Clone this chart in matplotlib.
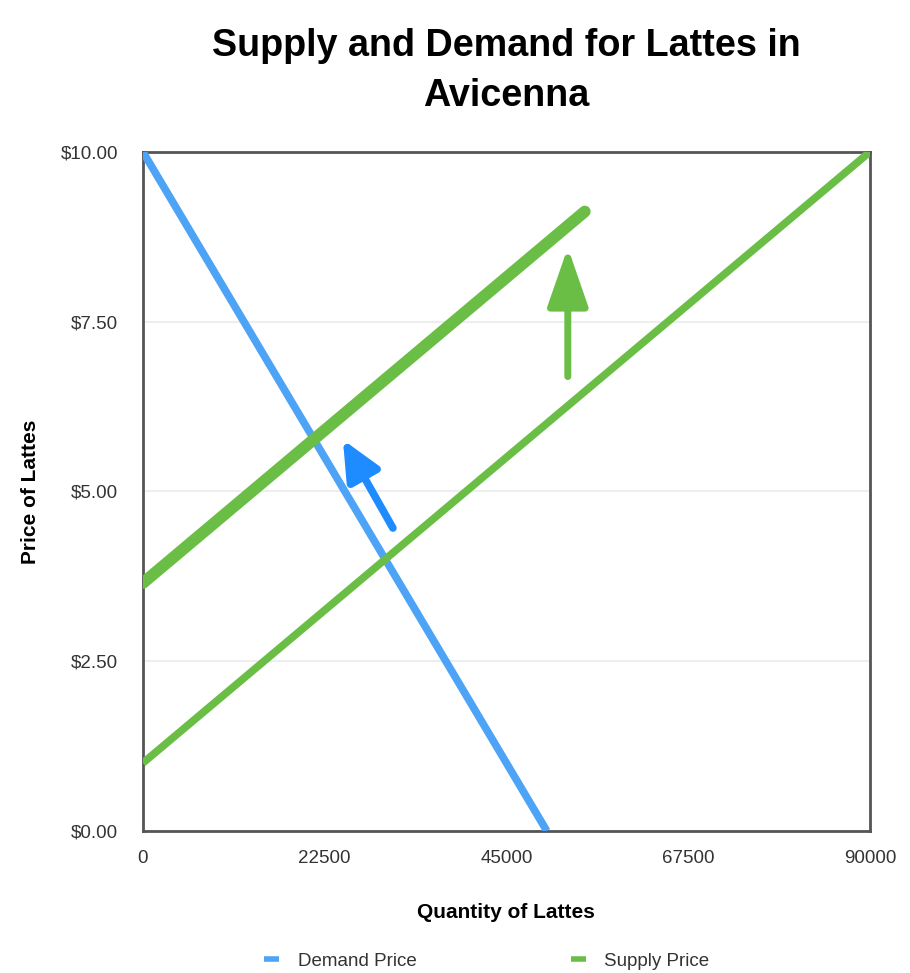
import matplotlib
matplotlib.use("Agg")
import matplotlib.pyplot as plt
from matplotlib import font_manager
import numpy as np

# Data
quantity_ticks = [0, 22500, 45000, 67500, 90000]
price_ticks = [0.0, 2.5, 5.0, 7.5, 10.0]
price_tick_labels = ["$0.00", "$2.50", "$5.00", "$7.50", "$10.00"]

demand_q = [0, 50000]
demand_p = [10.0, 0.0]
supply_q = [0, 90000]
supply_p = [1.0, 10.0]
new_supply_q = [0, 54700]
new_supply_p = [3.65, 9.12]

# arrows (tail -> head) in data coords
green_arrow = ((52600, 6.69), (52600, 8.59))
blue_arrow = ((30950, 4.46), (24760, 5.76))

names = {f.name for f in font_manager.fontManager.ttflist}
fam = "Liberation Sans Narrow" if "Liberation Sans Narrow" in names else "Liberation Sans"
plt.rcParams['font.family'] = [fam, 'DejaVu Sans']

demand_color = "#4DA3F5"
supply_color = "#6BBE45"
blue_arrow_color = "#1E8BFF"

fig = plt.figure(figsize=(9.1, 9.73), dpi=100)
ax = fig.add_axes([0.157, 0.146, 0.799, 0.698])

ax.plot(demand_q, demand_p, color=demand_color, lw=5.5, solid_capstyle='butt', label="Demand Price", zorder=3)
ax.plot(supply_q, supply_p, color=supply_color, lw=5.5, solid_capstyle='butt', label="Supply Price", zorder=3)
ax.plot(new_supply_q, new_supply_p, color=supply_color, lw=8.5, solid_capstyle='round', zorder=3)

ax.annotate("", xy=green_arrow[1], xytext=green_arrow[0],
            arrowprops=dict(arrowstyle="-|>,head_length=3.6,head_width=1.25", color=supply_color,
                            lw=5, shrinkA=0, shrinkB=0), zorder=4)
ax.annotate("", xy=blue_arrow[1], xytext=blue_arrow[0],
            arrowprops=dict(arrowstyle="-|>,head_length=2.4,head_width=1.1", color=blue_arrow_color,
                            lw=5.5, shrinkA=0, shrinkB=0), zorder=4)

ax.set_xlim(0, 90000)
ax.set_ylim(0, 10)
ax.set_xticks(quantity_ticks)
ax.set_xticklabels([str(q) for q in quantity_ticks])
ax.set_yticks(price_ticks)
ax.set_yticklabels(price_tick_labels)
ax.tick_params(length=0, labelsize=13.5, colors="#333333")
ax.tick_params(axis='y', pad=18)
ax.tick_params(axis='x', pad=14)
ax.grid(axis='y', color="#eeeeee", lw=1.5)
ax.set_axisbelow(True)
for s in ax.spines.values():
    s.set_color("#555555")
    s.set_linewidth(2)

ax.set_xlabel("Quantity of Lattes", fontsize=15, fontweight='bold', labelpad=26)
ax.set_ylabel("Price of Lattes", fontsize=15, fontweight='bold', labelpad=15)
fig.text(0.556, 0.927, "Supply and Demand for Lattes in\nAvicenna", ha='center', va='center',
         fontsize=27.2, fontweight='bold', linespacing=1.5)

leg = fig.legend(handles=ax.get_lines()[:2], loc='center', bbox_to_anchor=(0.535, 0.012),
                 ncol=2, frameon=False, fontsize=13.5, handlelength=0.8, columnspacing=8.2,
                 handletextpad=1.0)
for h in leg.legend_handles:
    h.set_linewidth(4)
for t in leg.get_texts():
    t.set_color("#333333")

fig.savefig("out.png", dpi=100)
